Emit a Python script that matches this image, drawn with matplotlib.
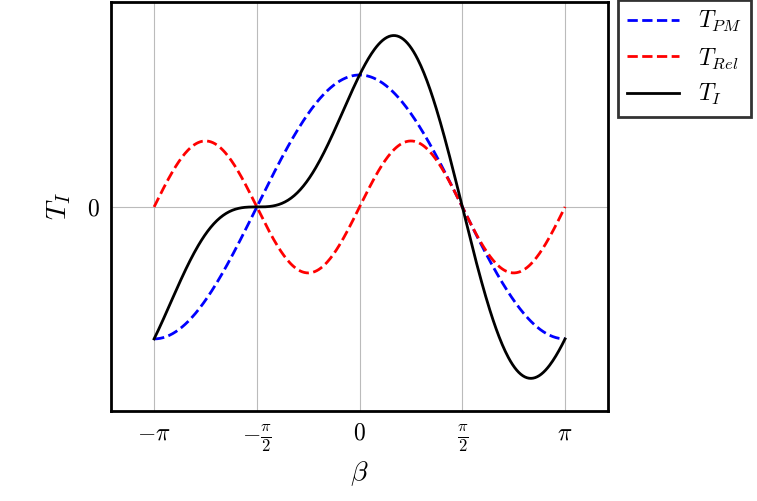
import numpy as np
import matplotlib
matplotlib.use("Agg")
import matplotlib.pyplot as plt

plt.rcParams['mathtext.fontset'] = 'cm'
plt.rcParams['font.family'] = ['DejaVu Serif']

pm_amplitude = [1.0]
rel_amplitude = [0.5]
xtick_vals = [-np.pi, -np.pi/2, 0, np.pi/2, np.pi]
xtick_labels = [r'$-\pi$', r'$-\frac{\pi}{2}$', r'$0$', r'$\frac{\pi}{2}$', r'$\pi$']

b = np.linspace(-np.pi, np.pi, 400)
t_pm = pm_amplitude[0] * np.cos(b)
t_rel = rel_amplitude[0] * np.sin(2 * b)
t_i = t_pm + t_rel

fig = plt.figure(figsize=(7.57, 5.01), dpi=100)
ax = fig.add_axes([0.147, 0.18, 0.656, 0.816])
ax.plot(b, t_pm, '--', color='#0000ff', lw=2, label=r'$T_{PM}$')
ax.plot(b, t_rel, '--', color='#ff0000', lw=2, label=r'$T_{Rel}$')
ax.plot(b, t_i, '-', color='black', lw=2, label=r'$T_I$')
ax.set_xlim(-3.796, 3.796)
ax.set_ylim(-1.545, 1.553)
ax.set_xticks(xtick_vals)
ax.set_xticklabels(xtick_labels, fontsize=17)
ax.set_yticks([0])
ax.set_yticklabels([r'$0$'], fontsize=17)
ax.grid(True, color='#bbbbbb', lw=0.8)
ax.tick_params(length=0, pad=8)
for s in ax.spines.values():
    s.set_linewidth(2)
ax.set_xlabel(r'$\beta$', fontsize=20)
ax.set_ylabel(r'$T_I$', fontsize=20, labelpad=10)
leg = ax.legend(loc='upper left', bbox_to_anchor=(1.02, 1.005), fontsize=17,
                frameon=True, fancybox=False, edgecolor='black', borderaxespad=0,
                handlelength=2.2)
leg.get_frame().set_linewidth(2)
fig.savefig('out.png', dpi=100)
